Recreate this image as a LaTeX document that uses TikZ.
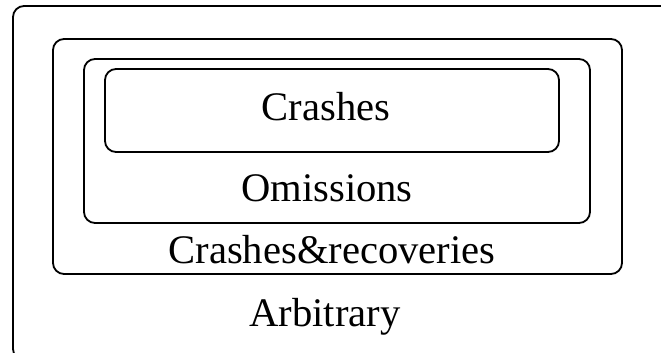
\documentclass[tikz,border=0pt]{standalone}
\usepackage{fontspec}
\setmainfont{Liberation Serif}
\usetikzlibrary{positioning}

\begin{document}
\begin{tikzpicture}[x=0.5pt,y=-0.5pt,
  shell/.style={draw,line width=0.9pt,rounded corners=5.5pt},
  lbl/.style={anchor=base,inner sep=0pt,font=\fontsize{20.3}{24}\selectfont}]
\clip (0,0) rectangle (661,353);
% nested failure classes, outermost first
\draw[shell] (13,6) rectangle (680,360);
\draw[shell] (53,39) rectangle (622,274);
\draw[shell] (84,59) rectangle (590,223);
\draw[shell] (105,69) rectangle (559,152);
\node[lbl] (crash) at (326,121) {Crashes};
\node[lbl] (omit) at (327,202) {Omissions};
\node[lbl] (recov) at (332,264) {Crashes\&recoveries};
\node[lbl] (arb) at (325,327) {Arbitrary};
\end{tikzpicture}
\end{document}
